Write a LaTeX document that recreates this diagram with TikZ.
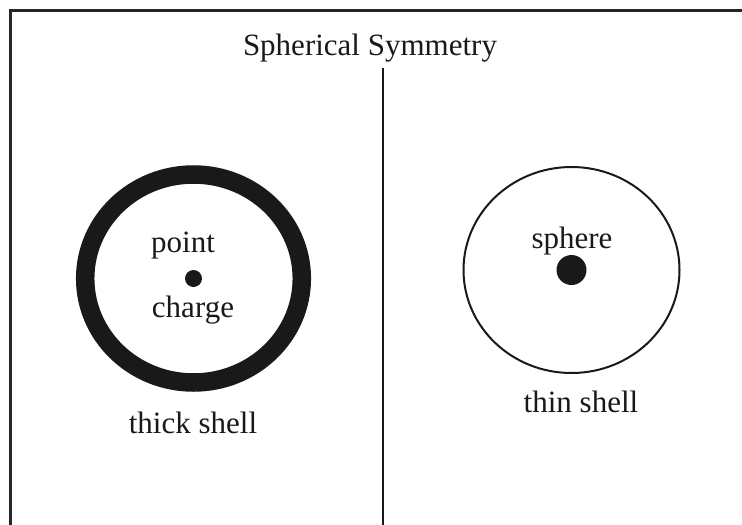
\documentclass[tikz,border=0pt]{standalone}
\usepackage{fontspec}
\setmainfont{Liberation Serif}
\begin{document}
\begin{tikzpicture}[x=1pt,y=-1pt,
  lbl/.style={anchor=base,inner sep=0pt,font=\fontsize{31}{37}\selectfont,text=black!90},
  framestyle/.style={line width=2.6pt,draw=black!85},
  dividerstyle/.style={line width=2pt,draw=black!90}]
\useasboundingbox (0,0) rectangle (742,525);
% frame
\coordinate (fbl) at (10.5,525);
\coordinate (ftl) at (10.5,10.5);
\coordinate (ftr) at (742,10.5);
\draw[framestyle] (fbl) -- (ftl) -- (ftr);
% title
\node[lbl] (title) at (370,55) {Spherical Symmetry};
% divider
\coordinate (dtop) at (383,68);
\coordinate (dbot) at (383,525);
\draw[dividerstyle] (dtop) -- (dbot);
% thick shell
\coordinate (c1) at (193.5,278.5);
\draw[line width=18.5pt,black!90] (c1) ellipse [x radius=108.3, y radius=104];
\fill[black!90] (c1) circle (8.5);
\node[lbl] (point) at (183,252) {point};
\node[lbl] (charge) at (193,317) {charge};
\node[lbl] (thick) at (193,433) {thick shell};
% thin shell
\coordinate (c2) at (571.5,270);
\draw[line width=2pt,black!90] (c2) ellipse [x radius=108, y radius=103];
\fill[black!90] (c2) circle (15);
\node[lbl] (sphere) at (572,248) {sphere};
\node[lbl] (thin) at (581,412) {thin shell};
\end{tikzpicture}
\end{document}
